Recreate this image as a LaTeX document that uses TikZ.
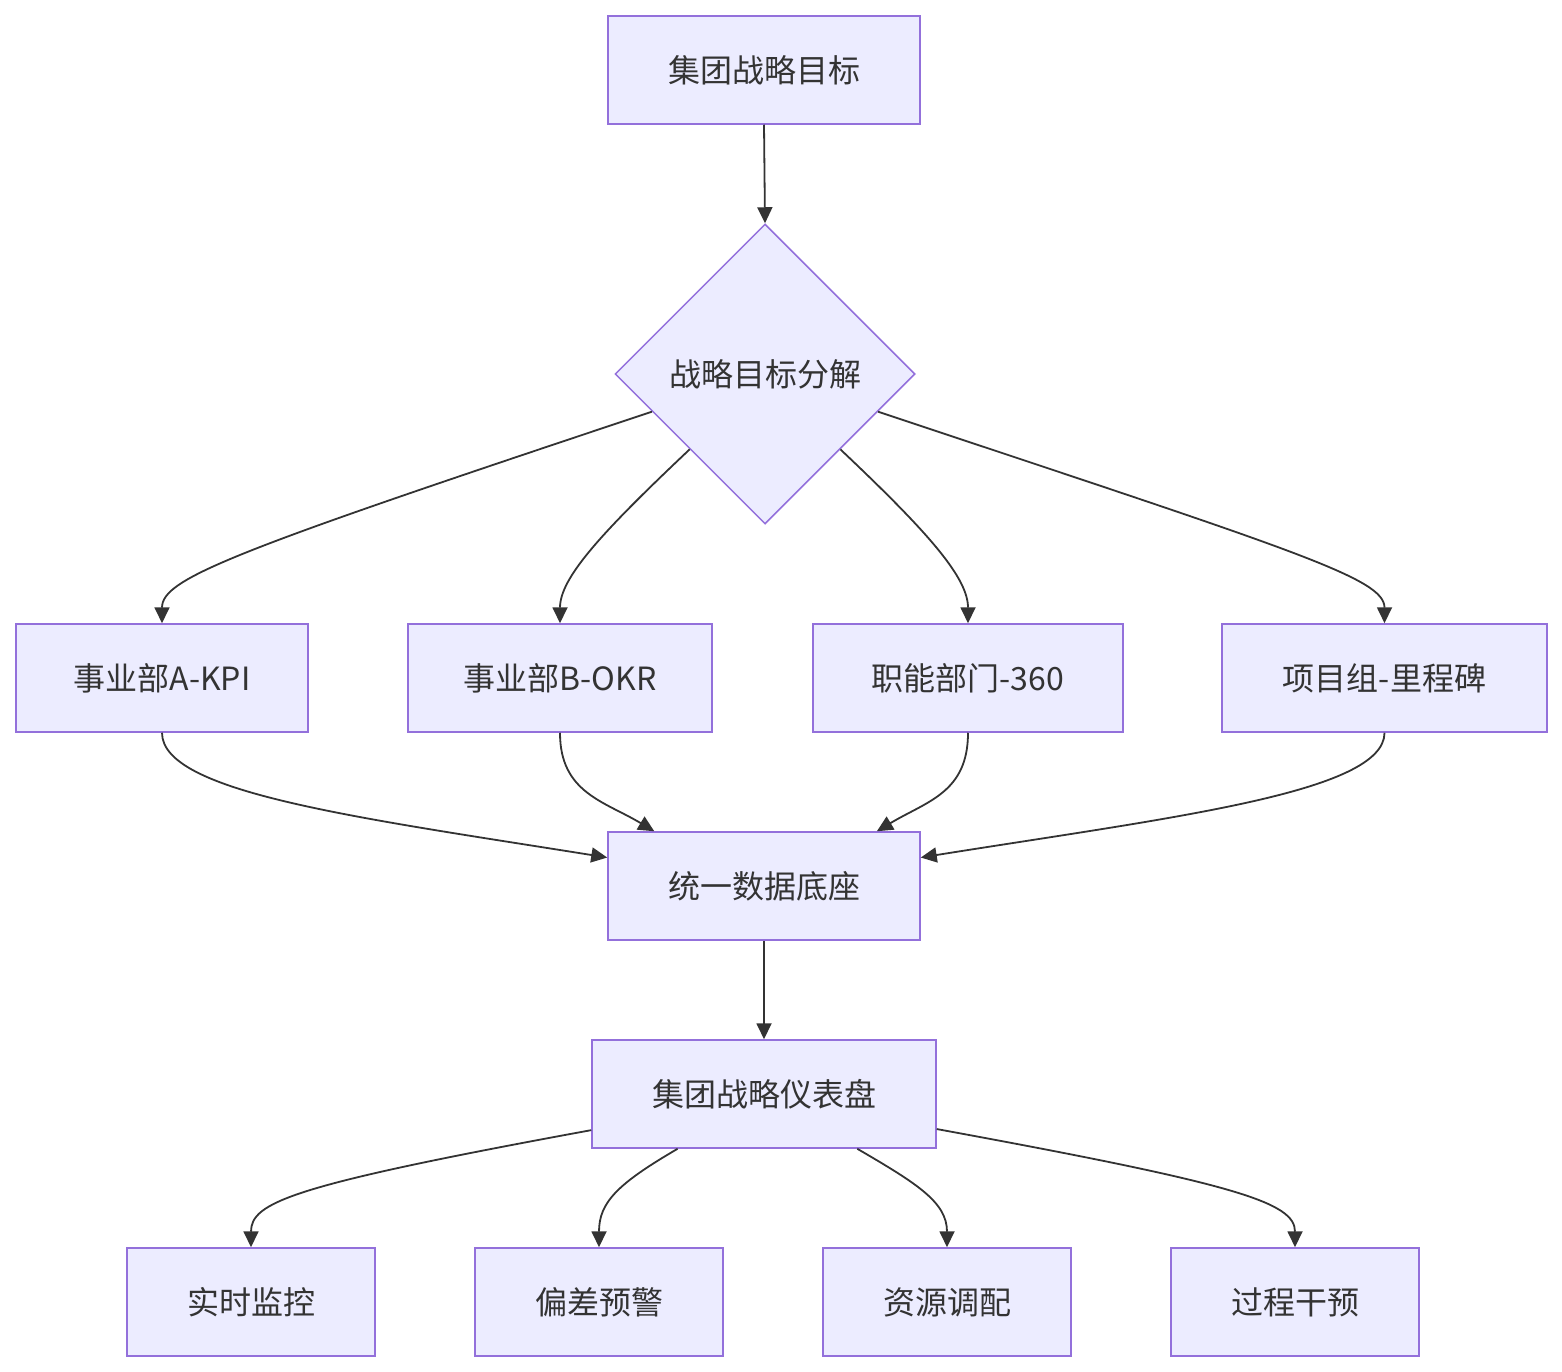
\documentclass[tikz,border=0pt]{standalone}
\usepackage{fontspec}
\setmainfont{Noto Sans CJK SC}
\usetikzlibrary{arrows.meta,shapes.geometric,calc}
\definecolor{nodefill}{HTML}{ECECFF}
\definecolor{nodeedge}{HTML}{9370DB}
\definecolor{linecol}{HTML}{333333}
\begin{document}
\begin{tikzpicture}[x=1pt,y=-1pt,
  box/.style={draw=nodeedge,fill=nodefill,line width=1.5pt,minimum height=108pt,inner sep=0pt,font=\fontsize{32}{38}\selectfont,text=linecol},
  dia/.style={draw=nodeedge,fill=nodefill,line width=1.5pt,diamond,minimum width=300pt,minimum height=300pt,inner sep=0pt,font=\fontsize{32}{38}\selectfont,text=linecol,aspect=1},
  conn/.style={draw=linecol,line width=1.8pt,-{Triangle[length=16pt,width=15pt]}}]
\useasboundingbox (0,0) rectangle (1562,1372);
\node[box,minimum width=312pt] (goal) at (764,70) {集团战略目标};
\node[dia] (dec) at (765,374) {战略目标分解};
\node[box,minimum width=292pt] (a) at (162,678) {事业部A-KPI};
\node[box,minimum width=304pt] (b) at (560,678) {事业部B-OKR};
\node[box,minimum width=310pt] (c) at (968,678) {职能部门-360};
\node[box,minimum width=325pt] (d) at (1384.5,678) {项目组-里程碑};
\node[box,minimum width=312pt] (data) at (764,886) {统一数据底座};
\node[box,minimum width=344pt] (dash) at (764,1094) {集团战略仪表盘};
\node[box,minimum width=248pt] (m1) at (251,1302) {实时监控};
\node[box,minimum width=248pt] (m2) at (599,1302) {偏差预警};
\node[box,minimum width=248pt] (m3) at (947,1302) {资源调配};
\node[box,minimum width=248pt] (m4) at (1295,1302) {过程干预};

\coordinate (dA) at ($(dec.west)!0.25!(dec.south)$);
\coordinate (dB) at ($(dec.west)!0.5!(dec.south)$);
\coordinate (dC) at ($(dec.east)!0.5!(dec.south)$);
\coordinate (dD) at ($(dec.east)!0.25!(dec.south)$);
\coordinate (dataL) at ($(data.north west)!0.24!(data.south west)$);
\coordinate (dataR) at ($(data.north east)!0.24!(data.south east)$);
\coordinate (dataTL) at ($(data.north west)!0.15!(data.north east)$);
\coordinate (dataTR) at ($(data.north west)!0.86!(data.north east)$);
\coordinate (dashL) at ($(dash.north west)!0.83!(dash.south west)$);
\coordinate (dashR) at ($(dash.north east)!0.82!(dash.south east)$);
\coordinate (dashBL) at ($(dash.south west)!0.25!(dash.south east)$);
\coordinate (dashBR) at ($(dash.south west)!0.77!(dash.south east)$);

\draw[conn] (goal.south) -- (dec.north);
\draw[conn] (dA) .. controls ($(dA)+(-420,140)$) and ($(a.north)+(0,-45)$) .. (a.north);
\draw[conn] (dB) .. controls ($(dB)+(-90,85)$) and ($(b.north)+(0,-45)$) .. (b.north);
\draw[conn] (dC) .. controls ($(dC)+(90,85)$) and ($(c.north)+(0,-45)$) .. (c.north);
\draw[conn] (dD) .. controls ($(dD)+(420,140)$) and ($(d.north)+(0,-45)$) .. (d.north);

\draw[conn] (a.south) .. controls ($(a.south)+(0,60)$) and ($(dataL)+(-250,-40)$) .. (dataL);
\draw[conn] (b.south) .. controls ($(b.south)+(0,60)$) and ($(dataTL)+(-50,-30)$) .. (dataTL);
\draw[conn] (c.south) .. controls ($(c.south)+(0,60)$) and ($(dataTR)+(50,-30)$) .. (dataTR);
\draw[conn] (d.south) .. controls ($(d.south)+(0,60)$) and ($(dataR)+(250,-40)$) .. (dataR);

\draw[conn] (data.south) -- (dash.north);

\draw[conn] (dashL) .. controls ($(dashL)+(-300,55)$) and ($(m1.north)+(0,-45)$) .. (m1.north);
\draw[conn] (dashBL) .. controls ($(dashBL)+(-60,35)$) and ($(m2.north)+(0,-45)$) .. (m2.north);
\draw[conn] (dashBR) .. controls ($(dashBR)+(60,35)$) and ($(m3.north)+(0,-45)$) .. (m3.north);
\draw[conn] (dashR) .. controls ($(dashR)+(300,55)$) and ($(m4.north)+(0,-45)$) .. (m4.north);
\end{tikzpicture}
\end{document}
